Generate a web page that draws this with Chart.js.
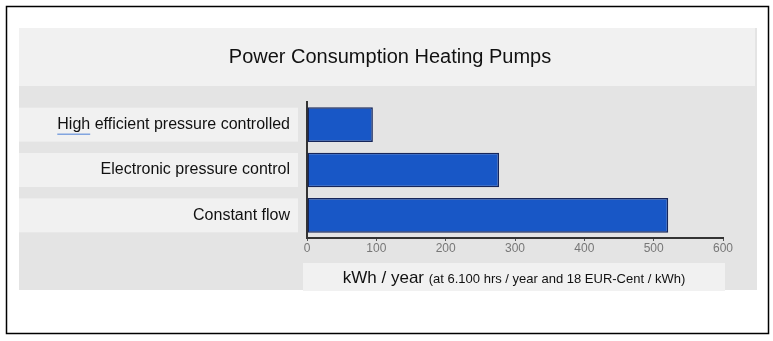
<!DOCTYPE html>
<html>
<head>
<meta charset="utf-8">
<script src="https://cdn.jsdelivr.net/npm/chart.js@4/dist/chart.umd.min.js"></script>
<style>
html,body{margin:0;padding:0;background:#fff;}
#wrap{width:773px;height:341px;position:relative;}
</style>
</head>
<body>
<div id="wrap"><canvas id="c" width="773" height="341"></canvas></div>
<script>
const categories = ["High efficient pressure controlled", "Electronic pressure control", "Constant flow"];
const consumption = [95, 277, 521];
const xTicks = [0, 100, 200, 300, 400, 500, 600];
const chartTitle = "Power Consumption Heating Pumps";
const axisMain = "kWh / year";
const axisNote = "(at 6.100 hrs / year and 18 EUR-Cent / kWh)";

const FONT = "'Liberation Sans', Arial, sans-serif";

const decor = {
  id: 'decor',
  beforeDraw(chart) {
    const ctx = chart.ctx;
    const y = chart.scales.y;
    ctx.save();
    ctx.fillStyle = '#ffffff';
    ctx.fillRect(0, 0, chart.width, chart.height);
    ctx.strokeStyle = '#000';
    ctx.lineWidth = 1.5;
    ctx.strokeRect(6.5, 6.5, 762, 327);
    ctx.fillStyle = '#e4e4e4';
    ctx.fillRect(19, 28, 738, 262);
    ctx.fillStyle = '#f1f1f1';
    ctx.fillRect(19, 28, 736, 58);
    categories.forEach((c, i) => {
      const py = y.getPixelForValue(i);
      ctx.fillRect(19, py - 17, 279, 34);
    });
    ctx.fillRect(303, 263, 422, 28);
    ctx.fillStyle = '#111';
    ctx.font = "20px " + FONT;
    ctx.textAlign = 'center';
    ctx.textBaseline = 'middle';
    ctx.fillText(chartTitle, 390, 57);
    ctx.textBaseline = 'alphabetic';
    ctx.textAlign = 'left';
    ctx.font = "17px " + FONT;
    const w1 = ctx.measureText(axisMain + " ").width;
    ctx.font = "13px " + FONT;
    const w2 = ctx.measureText(axisNote).width;
    const x0 = 514 - (w1 + w2) / 2;
    ctx.font = "17px " + FONT;
    ctx.fillText(axisMain + " ", x0, 283);
    ctx.font = "13px " + FONT;
    ctx.fillText(axisNote, x0 + w1, 283);
    ctx.restore();
  },
  afterDraw(chart) {
    const ctx = chart.ctx;
    const y = chart.scales.y;
    ctx.save();
    ctx.font = "16px " + FONT;
    const full = ctx.measureText(categories[0]).width;
    const hw = ctx.measureText("High").width;
    const xs = 290 - full;
    const py = y.getPixelForValue(0) + 9;
    ctx.strokeStyle = '#4a7fd6';
    ctx.lineWidth = 1;
    ctx.beginPath();
    ctx.moveTo(xs, py + 0.5);
    ctx.lineTo(xs + hw, py + 0.5);
    ctx.stroke();
    ctx.restore();
  }
};

new Chart(document.getElementById('c'), {
  type: 'bar',
  data: {
    labels: categories,
    datasets: [{
      data: consumption,
      backgroundColor: '#1857c6',
      borderColor: '#16265a',
      borderWidth: 1.5,
      borderSkipped: false,
      barPercentage: 0.85,
      categoryPercentage: 0.9
    }]
  },
  options: {
    indexAxis: 'y',
    responsive: false,
    animation: false,
    layout: { padding: { top: 102, right: 50, left: 0, bottom: 0 } },
    plugins: { legend: { display: false }, title: { display: false }, tooltip: { enabled: false } },
    scales: {
      x: {
        min: 0, max: 600,
        afterFit(s) { s.height = 103; },
        afterBuildTicks(s) { s.ticks = xTicks.map(v => ({ value: v })); },
        border: { display: true, color: '#333', width: 2 },
        grid: { drawOnChartArea: false, drawTicks: true, tickLength: 3, color: '#555' },
        ticks: { color: '#777', font: { family: FONT, size: 12 }, padding: 0 }
      },
      y: {
        afterFit(s) { s.width = 307; },
        border: { display: true, color: '#333', width: 2 },
        grid: { display: false, drawTicks: false },
        ticks: { color: '#111', font: { family: FONT, size: 16 }, padding: 17 }
      }
    }
  },
  plugins: [decor]
});
</script>
</body>
</html>
